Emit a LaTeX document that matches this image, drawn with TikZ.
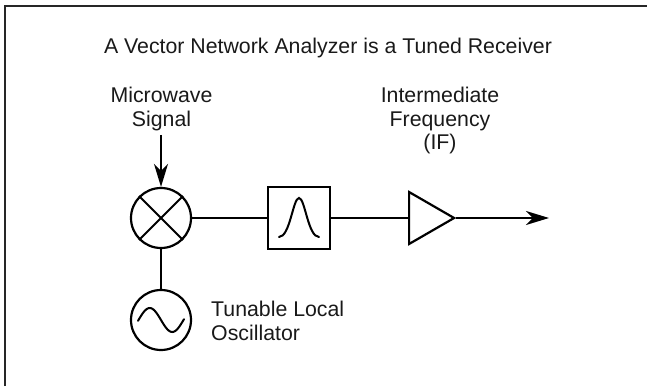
\documentclass[tikz,border=0pt]{standalone}
\usepackage{fontspec}
\setmainfont{Liberation Sans}
\usetikzlibrary{arrows.meta,positioning,shapes.geometric}
\tikzset{
	lbl/.style={font=\fontsize{21.3}{23.8}\selectfont, align=center, inner sep=0pt, text=black!90},
	sym/.style={draw, line width=2.2pt, inner sep=0pt},
	wire/.style={line width=2pt},
	tip/.style={-{Stealth[length=23pt,width=14pt,inset=7pt]}}
}
\begin{document}
\begin{tikzpicture}[x=1pt,y=1pt]
	\useasboundingbox (0,0) rectangle (647,386);
	\draw [line width=1.5pt, black!85] (5,0) -- (5,380) -- (647,380);
	\node [lbl] (title) at (328,338) {A Vector Network Analyzer is a Tuned Receiver};
	\node [sym, circle, minimum size=60pt] (mixer) at (161,168) {};
	\node [sym, circle, minimum size=60pt] (osc) at (161,66) {};
	\node [sym, minimum size=62pt] (filter) at (299,168) {};
	\node [sym, isosceles triangle, isosceles triangle apex angle=60, minimum height=45pt, anchor=lower side] (amp) at (408,168) {};
	\node [lbl, anchor=south] (sigtext) at (161.5,255) {Microwave\\Signal};
	\node [lbl, anchor=south] (iftext) at (440,231.5) {Intermediate\\Frequency\\(IF)};
	\node [lbl, align=left, anchor=west] (lotext) at (211,65) {Tunable Local\\Oscillator};
	\coordinate (sigin) at (161,251);
	\coordinate (out) at (549,168);
	\draw [wire, tip] (sigin) -- (mixer.north);
	\draw [wire] (mixer) -- (filter);
	\draw [wire] (filter) -- (amp.lower side);
	\draw [wire, tip] (amp.apex) -- (out);
	\draw [wire] (mixer) -- (osc);
	\draw [wire]
	(mixer.north west) -- (mixer.south east)
	(mixer.north east) -- (mixer.south west);
	\draw [wire, line cap=round, shift={(filter.center)}] (-20,-19) .. controls (-9,-19) and (-6,20) .. (0,20) .. controls (6,20) and (9,-19) .. (20,-19);
	\draw [wire, line cap=round, shift={(osc.center)}, domain=-23:23, samples=40, smooth] plot (\x,{-12*sin(\x*8)});
\end{tikzpicture}
\end{document}
